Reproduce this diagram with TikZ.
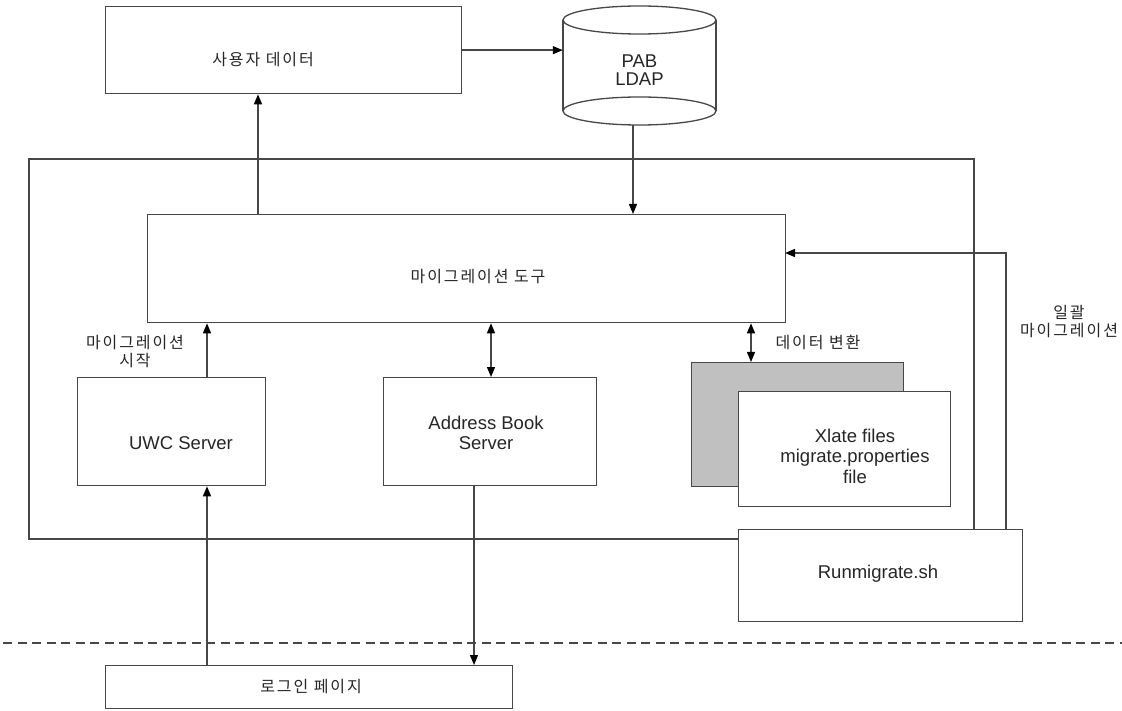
\documentclass[tikz,border=0pt]{standalone}
\usepackage{fontspec}
\setmainfont{Liberation Sans}
\newfontfamily\kr[LetterSpace=12]{Noto Sans CJK KR}
\usetikzlibrary{arrows.meta}
\begin{document}
\begin{tikzpicture}[x=1pt,y=-1pt,
  box/.style={draw=black!72, line width=1.3pt, fill=white, inner sep=0pt, anchor=north west},
  conn/.style={draw=black!72, line width=1.3pt},
  tip/.tip={Triangle[length=10pt,width=8pt,color=black]},
  arr/.style={conn, -tip},
  barr/.style={conn, tip-tip},
  lat/.style={font=\fontsize{18.5}{20.5}\selectfont, align=center, text=black!85, inner sep=0pt},
  kor/.style={font=\kr\fontsize{16}{18}\selectfont, align=center, text=black!85, inner sep=0pt},
  sep/.style={draw=black!72, line width=1.2pt, dash pattern=on 9pt off 5.5pt}
]
\useasboundingbox (0,0) rectangle (1122,711);

% outer frame
\coordinate (o1) at (738,539);
\draw[conn] (o1) -- (29,539) -- (29,159) -- (974,159) -- (974,529);

% boxes
\node[box, minimum width=356pt, minimum height=87pt] (user) at (105,6) {};
\node[box, minimum width=638pt, minimum height=108pt] (tool) at (147,214) {};
\node[box, minimum width=188pt, minimum height=108pt] (uwc) at (77,377) {};
\node[box, minimum width=213pt, minimum height=108pt] (ab) at (383,377) {};
\node[box, fill={rgb,255:red,192;green,192;blue,192}, minimum width=212pt, minimum height=124pt] (shadow) at (691,362) {};
\node[box, minimum width=212pt, minimum height=115pt] (xlate) at (738,391) {};
\node[box, minimum width=284pt, minimum height=92pt] (run) at (738,529) {};
\node[box, minimum width=407pt, minimum height=43pt] (login) at (105,665) {};

% cylinder
\node[inner sep=0pt, minimum width=153pt, minimum height=119pt] (ldap) at (639.5,65.5) {};
\fill[white] (563,20) rectangle (716,111);
\draw[conn] (563,20) -- (563,111);
\draw[conn] (716,20) -- (716,111);
\draw[conn, fill=white] (639.5,20) ellipse [x radius=76.5, y radius=14];
\draw[conn, fill=white] (639.5,111) ellipse [x radius=76.5, y radius=14];

% dashed separator
\draw[sep] (3,643) -- (1122,643);

% connectors
\draw[arr] (user.east) -- (user.east -| ldap.west);
\coordinate (c1) at (633,125);
\draw[arr] (c1) -- (c1 |- tool.north);
\coordinate (uA) at (258,214);
\draw[arr] (uA) -- (uA |- user.south);
\coordinate (uwcT) at (207,377);
\draw[arr] (uwcT) -- (uwcT |- tool.south);
\coordinate (logT) at (207,665);
\draw[arr] (logT) -- (logT |- uwc.south);
\coordinate (abT) at (491,377);
\draw[barr] (abT |- tool.south) -- (abT);
\coordinate (abB) at (474,485);
\draw[arr] (abB) -- (abB |- login.north);
\coordinate (gT) at (751,362);
\draw[barr] (gT |- tool.south) -- (gT);
\coordinate (rT) at (1006,529);
\coordinate (tE) at (785,253);
\draw[arr] (rT) |- (tE);

% labels
\node[kor] (tUser) at (263,60) {사용자 데이터};
\node[lat, font=\fontsize{18.5}{18}\selectfont] (tLdap) at (639.5,70) {PAB\\LDAP};
\node[kor] (tTool) at (478,277) {마이그레이션 도구};
\node[kor] (tStart) at (135,352) {마이그레이션\\시작};
\node[lat] (tUwc) at (181,443) {UWC Server};
\node[lat] (tAb) at (486,433) {Address Book\\Server};
\node[kor] (tConv) at (818,342) {데이터 변환};
\node[lat] (tX) at (855,456) {Xlate files\\migrate.properties\\file};
\node[kor] (tBulk) at (1069,322) {일괄\\마이그레이션};
\node[lat] (tRun) at (878,574) {Runmigrate.sh};
\node[kor] (tLogin) at (311,687) {로그인 페이지};
\end{tikzpicture}
\end{document}
